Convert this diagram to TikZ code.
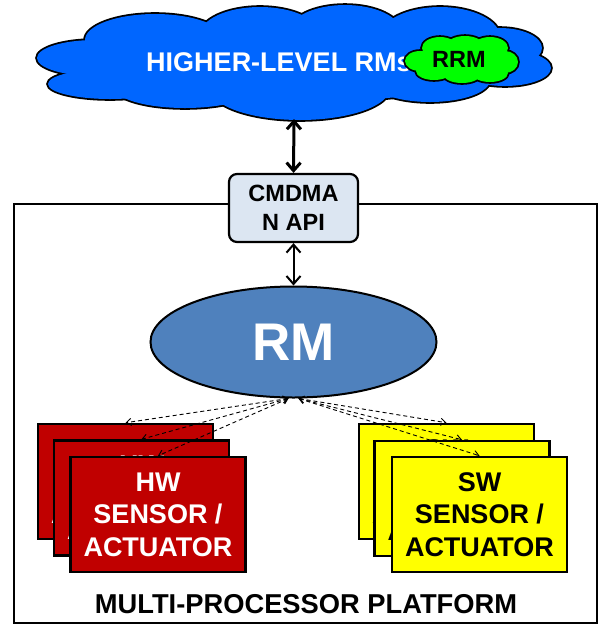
\documentclass[tikz,border=0pt]{standalone}
\usepackage{fontspec}
\setmainfont{Liberation Sans}
\usetikzlibrary{shapes.geometric,arrows.meta}
\definecolor{cloudblue}{HTML}{0066FF}
\definecolor{rrmgreen}{HTML}{00FF00}
\definecolor{apigrey}{HTML}{DCE6F2}
\definecolor{rmblue}{HTML}{4F81BD}
\definecolor{hwred}{HTML}{C00000}
\definecolor{swyellow}{HTML}{FFFF00}
\tikzset{
    sensorbox/.style={draw=black, line width=2.5pt, minimum width=175pt, minimum height=115pt,
        inner sep=0pt, align=center, font=\bfseries\fontsize{27}{32.5}\selectfont},
    hwbox/.style={sensorbox, fill=hwred, text=white},
    swbox/.style={sensorbox, fill=swyellow, text=black},
    link/.style={line width=#1, {Straight Barb[length=8pt,width=14pt]}-{Straight Barb[length=8pt,width=14pt]}},
    ctrl/.style={line width=0.9pt, dash pattern=on 4pt off 3pt,
        {Straight Barb[length=5pt,width=7pt]}-{Straight Barb[length=5pt,width=7pt]}}
}
\begin{document}
            \begin{tikzpicture}[x=1pt,y=-1pt]
                \useasboundingbox (0,0) rectangle (611,625);

                \node[draw=black, line width=2pt, minimum width=583pt, minimum height=419pt, inner sep=0pt]
                    (plat) at (305.5,413.5) {};
                \node[font=\bfseries\fontsize{27.3}{30}\selectfont]
                    (platlabel) at (306,604) {MULTI-PROCESSOR PLATFORM};

                \foreach \cx/\cy/\rx/\ry in {95/58/58/18, 110/84/62/15, 155/40/70/26, 260/35/60/28,
                        345/32/56/27, 440/37/60/30, 500/48/42/20, 505/68/46/18, 430/80/60/22,
                        300/88/90/32, 185/88/70/20, 300/62/200/40}
                    \draw[line width=3.6pt] (\cx,\cy) ellipse ({\rx pt} and {\ry pt});
                \foreach \cx/\cy/\rx/\ry in {95/58/58/18, 110/84/62/15, 155/40/70/26, 260/35/60/28,
                        345/32/56/27, 440/37/60/30, 500/48/42/20, 505/68/46/18, 430/80/60/22,
                        300/88/90/32, 185/88/70/20, 300/62/200/40}
                    \fill[cloudblue] (\cx,\cy) ellipse ({\rx pt} and {\ry pt});
                \node[text=white, font=\bfseries\fontsize{27}{30}\selectfont]
                    (hl) at (279,62) {HIGHER-LEVEL RMs};
                \coordinate (hlbase) at (294,119);

                \foreach \cx/\cy/\rx/\ry in {420/61/15/10, 440/48/18/11, 465/45/18/9, 490/48/18/11,
                        505/62/13/11, 490/73/18/9, 462/75/18/8, 434/71/18/9, 461/60/45/15}
                    \draw[line width=3.6pt] (\cx,\cy) ellipse ({\rx pt} and {\ry pt});
                \foreach \cx/\cy/\rx/\ry in {420/61/15/10, 440/48/18/11, 465/45/18/9, 490/48/18/11,
                        505/62/13/11, 490/73/18/9, 462/75/18/8, 434/71/18/9, 461/60/45/15}
                    \fill[rrmgreen] (\cx,\cy) ellipse ({\rx pt} and {\ry pt});
                \node[font=\bfseries\fontsize{23.5}{26}\selectfont]
                    (rrm) at (459,59) {RRM};

                \node[draw=black, line width=2.2pt, fill=apigrey, rounded corners=8pt,
                    minimum width=129pt, minimum height=68pt, inner sep=0pt, align=center,
                    font=\bfseries\fontsize{23.5}{29}\selectfont]
                    (api) at (293.5,208) {CMDMA\\N API};

                \node[ellipse, draw=black, line width=2pt, fill=rmblue, text=white,
                    minimum width=286pt, minimum height=111pt, inner sep=0pt,
                    font=\bfseries\fontsize{53}{56}\selectfont]
                    (rm) at (293.5,342) {RM};

                \draw[link=3pt] (hlbase) -- (api.north);
                \draw[link=2pt] (api.south) -- (rm.north);

                \node[hwbox] (hwa) at (125.5,481.5) {HW\\SENSOR /\\ACTUATOR};
                \node[hwbox] (hwb) at (141.5,498) {HW\\SENSOR /\\ACTUATOR};
                \node[hwbox] (hwc) at (158,514.5) {HW\\SENSOR /\\ACTUATOR};
                \node[swbox] (swa) at (446.5,481.5) {SW\\SENSOR /\\ACTUATOR};
                \node[swbox] (swb) at (462,498.5) {SW\\SENSOR /\\ACTUATOR};
                \node[swbox] (swc) at (479.5,514.5) {SW\\SENSOR /\\ACTUATOR};

                \draw[ctrl] (rm.265) -- (hwa.north);
                \draw[ctrl] (rm.265) -- (hwb.north);
                \draw[ctrl] (rm.265) -- (hwc.north);
                \draw[ctrl] (rm.275) -- (swa.north);
                \draw[ctrl] (rm.275) -- (swb.north);
                \draw[ctrl] (rm.275) -- (swc.north);
            \end{tikzpicture}
\end{document}
